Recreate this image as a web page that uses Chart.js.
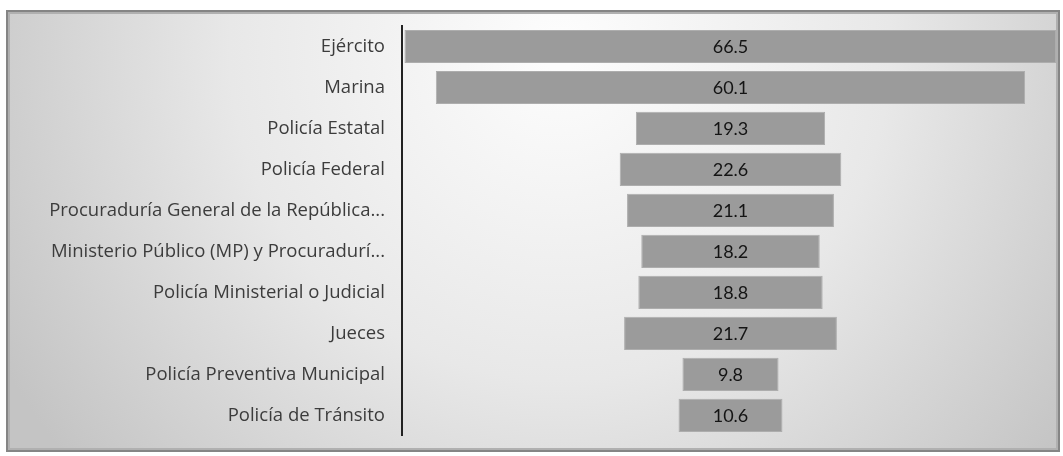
<!DOCTYPE html>
<html>
<head>
<meta charset="utf-8">
<script src="https://cdn.jsdelivr.net/npm/chart.js@4.4.0/dist/chart.umd.min.js"></script>
<style>
  html, body { margin: 0; padding: 0; background: #fff; }
  #wrap { width: 1063px; height: 456px; position: relative; }
</style>
</head>
<body>
<div id="wrap"><canvas id="c"></canvas></div>
<script>
const categories = [
  'Ejército',
  'Marina',
  'Policía Estatal',
  'Policía Federal',
  'Procuraduría General de la República...',
  'Ministerio Público (MP) y Procuradurí...',
  'Policía Ministerial o Judicial',
  'Jueces',
  'Policía Preventiva Municipal',
  'Policía de Tránsito'
];
const values = [66.5, 60.1, 19.3, 22.6, 21.1, 18.2, 18.8, 21.7, 9.8, 10.6];

// funnel: every bar is centred on zero
const floating = values.map(v => [-v / 2, v / 2]);

const framePlugin = {
  id: 'frame',
  beforeDraw(chart) {
    const ctx = chart.ctx;
    ctx.save();
    ctx.fillStyle = '#ffffff';
    ctx.fillRect(0, 0, chart.width, chart.height);
    // panel with soft radial shading
    const x0 = 7, y0 = 11, x1 = 1059, y1 = 451;
    const g = ctx.createRadialGradient(560, 50, 20, 560, 50, 640);
    g.addColorStop(0, '#fcfcfc');
    g.addColorStop(0.5, '#e8e8e8');
    g.addColorStop(1, '#c4c4c4');
    ctx.fillStyle = g;
    ctx.fillRect(x0, y0, x1 - x0, y1 - y0);
    ctx.lineWidth = 2;
    ctx.strokeStyle = '#858585';
    ctx.strokeRect(x0, y0, x1 - x0, y1 - y0);
    ctx.lineWidth = 2;
    ctx.strokeStyle = '#b0b0b0';
    ctx.strokeRect(x0 + 2, y0 + 2, x1 - x0 - 4, y1 - y0 - 4);
    ctx.restore();
  }
};

const valueLabels = {
  id: 'valueLabels',
  afterDatasetsDraw(chart) {
    const ctx = chart.ctx;
    const meta = chart.getDatasetMeta(0);
    ctx.save();
    ctx.font = '18px Lato, sans-serif';
    ctx.fillStyle = '#141414';
    ctx.textAlign = 'center';
    ctx.textBaseline = 'middle';
    meta.data.forEach((bar, i) => {
      const cx = (bar.x + bar.base) / 2;
      ctx.fillText(values[i].toFixed(1), cx, bar.y + 1);
    });
    ctx.restore();
  }
};

new Chart(document.getElementById('c'), {
  type: 'bar',
  data: {
    labels: categories,
    datasets: [{
      data: floating,
      backgroundColor: '#9b9b9b',
      borderColor: '#adadad',
      borderWidth: 1,
      borderSkipped: false,
      barPercentage: 0.9,
      categoryPercentage: 0.9
    }]
  },
  options: {
    indexAxis: 'y',
    responsive: true,
    maintainAspectRatio: false,
    animation: false,
    layout: { padding: { left: 0, top: 26, right: 4, bottom: 13 } },
    plugins: {
      legend: { display: false },
      tooltip: { enabled: false }
    },
    scales: {
      x: {
        display: false,
        min: -33.5,
        max: 33.5
      },
      y: {
        grid: { display: false },
        border: { display: true, color: '#222222', width: 2 },
        ticks: {
          color: '#3c3c3c',
          padding: 9,
          font: { family: '"Open Sans", sans-serif', size: 18.5 }
        },
        afterFit(scale) { scale.width = 402; }
      }
    }
  },
  plugins: [framePlugin, valueLabels]
});
</script>
</body>
</html>
